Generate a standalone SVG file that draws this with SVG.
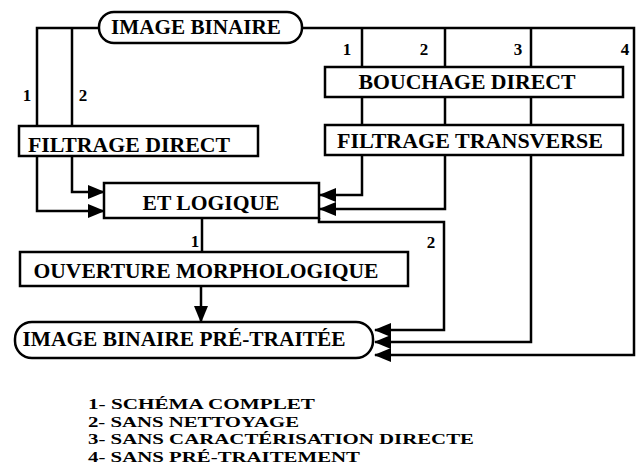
<svg xmlns="http://www.w3.org/2000/svg" width="637" height="476" viewBox="0 0 637 476">
<style>
.box{fill:#fff;stroke:#000;stroke-width:2.5}
.t{font-family:"Liberation Serif","Tinos","DejaVu Serif","Noto Serif","Times New Roman",serif;font-weight:bold;font-size:21px;fill:#000;text-anchor:middle}
.lbl{font-family:"Liberation Serif","Tinos","DejaVu Serif","Noto Serif","Times New Roman",serif;font-weight:bold;font-size:17px;fill:#000;text-anchor:middle}
.leg{font-family:"Liberation Serif","Tinos","DejaVu Serif","Noto Serif","Times New Roman",serif;font-weight:bold;font-size:15px;fill:#000}
.ln{fill:none;stroke:#000;stroke-width:2.5}
</style>
<defs>
<marker id="ah" markerUnits="userSpaceOnUse" markerWidth="18" markerHeight="16" refX="16" refY="8" orient="auto">
<path d="M0,1 L17,8 L0,15 z" fill="#000"/>
</marker>
</defs>
<rect width="637" height="476" fill="#fff"/>
<g id="connectors">
<path class="ln" d="M99,28 H37 V126"/>
<path class="ln" d="M72,28 V126"/>
<path class="ln" d="M302,28 H634 V355 H375" marker-end="url(#ah)"/>
<path class="ln" d="M362,28 V67 M445,28 V67 M531,28 V67"/>
<path class="ln" d="M362,97 V125 M445,97 V125 M531,97 V125"/>
<path class="ln" d="M72,156 V192 H104" marker-end="url(#ah)"/>
<path class="ln" d="M37,156 V211 H104" marker-end="url(#ah)"/>
<path class="ln" d="M362,155 V195 H320" marker-end="url(#ah)"/>
<path class="ln" d="M445,155 V209 H320" marker-end="url(#ah)"/>
<path class="ln" d="M531,155 V342 H375" marker-end="url(#ah)"/>
<path class="ln" d="M319,218 V222 H444 V330 H375" marker-end="url(#ah)"/>
<path class="ln" d="M202,218 V252"/>
<path class="ln" d="M201,286 V322" marker-end="url(#ah)"/>
<text class="lbl" x="27" y="101">1</text>
<text class="lbl" x="83" y="101">2</text>
<text class="lbl" x="347" y="55">1</text>
<text class="lbl" x="424" y="55">2</text>
<text class="lbl" x="518" y="55">3</text>
<text class="lbl" x="625" y="55">4</text>
<text class="lbl" x="195" y="247">1</text>
<text class="lbl" x="431" y="248">2</text>
</g>
<g id="image-binaire">
<rect class="box" x="99" y="12" width="203" height="31" rx="15"/>
<text class="t" x="196" y="34" textLength="170" lengthAdjust="spacingAndGlyphs">IMAGE BINAIRE</text>
</g>
<g id="filtrage-direct">
<rect class="box" x="19" y="126" width="239" height="30"/>
<text class="t" x="129" y="152" textLength="202" lengthAdjust="spacingAndGlyphs">FILTRAGE DIRECT</text>
</g>
<g id="bouchage-direct">
<rect class="box" x="325" y="67" width="298" height="30"/>
<text class="t" x="467" y="89" textLength="217" lengthAdjust="spacingAndGlyphs">BOUCHAGE DIRECT</text>
</g>
<g id="filtrage-transverse">
<rect class="box" x="325" y="125" width="298" height="30"/>
<text class="t" x="470" y="148" textLength="266" lengthAdjust="spacingAndGlyphs">FILTRAGE TRANSVERSE</text>
</g>
<g id="et-logique">
<rect class="box" x="104" y="183" width="215" height="35"/>
<text class="t" x="211" y="210" textLength="137" lengthAdjust="spacingAndGlyphs">ET LOGIQUE</text>
</g>
<g id="ouverture">
<rect class="box" x="20" y="252" width="388" height="34"/>
<text class="t" x="206" y="278" textLength="345" lengthAdjust="spacingAndGlyphs">OUVERTURE MORPHOLOGIQUE</text>
</g>
<g id="image-pretraitee">
<rect class="box" x="15" y="322" width="358" height="36" rx="17"/>
<text class="t" x="184" y="346" textLength="323" lengthAdjust="spacingAndGlyphs">IMAGE BINAIRE PRÉ-TRAITÉE</text>
</g>
<g id="legend">
<text class="leg" x="88" y="409" textLength="227" lengthAdjust="spacingAndGlyphs">1- SCHÉMA COMPLET</text>
<text class="leg" x="88" y="426.5" textLength="211" lengthAdjust="spacingAndGlyphs">2- SANS NETTOYAGE</text>
<text class="leg" x="88" y="444" textLength="386" lengthAdjust="spacingAndGlyphs">3- SANS CARACTÉRISATION DIRECTE</text>
<text class="leg" x="88" y="461.5" textLength="272" lengthAdjust="spacingAndGlyphs">4- SANS PRÉ-TRAITEMENT</text>
</g>
</svg>
